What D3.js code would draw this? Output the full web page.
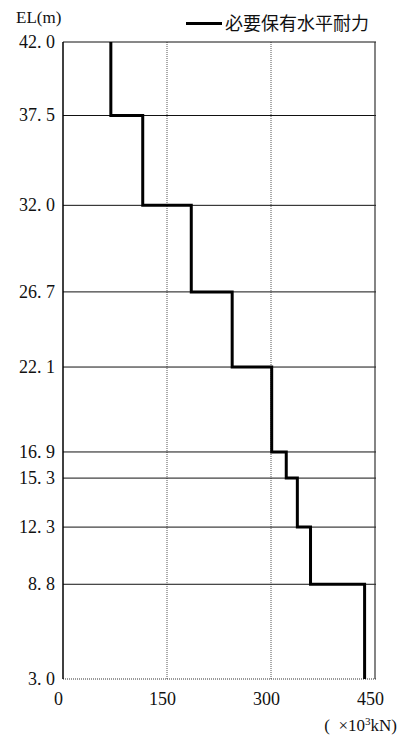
<!DOCTYPE html>
<html><head><meta charset="utf-8">
<script src="https://cdn.jsdelivr.net/npm/d3@7"></script>
<style>body{margin:0;background:#fff}svg{display:block}
.serif{font-family:"Liberation Serif","Times New Roman","DejaVu Serif",serif}
.cjk{font-family:"Noto Sans CJK JP",sans-serif}
</style>
</head><body>
<script>
// Data
const elevations = [42.0, 37.5, 32.0, 26.7, 22.1, 16.9, 15.3, 12.3, 8.8, 3.0];
const requiredStrength = [69, 115, 185, 244, 301, 322, 338, 357, 435]; // per segment, top to bottom (×10^3 kN)
const xTicks = [0, 150, 300, 450];
const legendLabel = "必要保有水平耐力";
const yAxisTitle = "EL(m)";

const W = 398, H = 738;
const mLeft = 63, mRight = 375, mTop = 42, mBottom = 679;
const svg = d3.select("body").append("svg").attr("width", W).attr("height", H);
const x = d3.scaleLinear().domain([0, 450]).range([mLeft, mRight]);
const y = d3.scaleLinear().domain([3.0, 42.0]).range([mBottom, mTop]);

// vertical grid lines (dotted gray)
svg.append("g").selectAll("line").data(xTicks.filter(d => d > 0 && d < 450)).join("line")
  .attr("x1", d => x(d)).attr("x2", d => x(d)).attr("y1", mTop).attr("y2", mBottom)
  .attr("stroke", "#555").attr("stroke-width", 1).attr("stroke-dasharray", "1,1");

// horizontal grid lines at elevation ticks
svg.append("g").selectAll("line").data(elevations.filter(d => d !== 3.0)).join("line")
  .attr("x1", mLeft).attr("x2", mRight + 1).attr("y1", d => y(d)).attr("y2", d => y(d))
  .attr("stroke", "#111").attr("stroke-width", 1);

// frame
svg.append("line").attr("x1", mLeft).attr("x2", mRight + 1).attr("y1", mBottom).attr("y2", mBottom)
  .attr("stroke", "#333").attr("stroke-width", 1.2).attr("stroke-dasharray", "1,1");
svg.append("line").attr("x1", x(450)).attr("x2", x(450)).attr("y1", mTop).attr("y2", mBottom)
  .attr("stroke", "#333").attr("stroke-width", 1.2);
svg.append("line").attr("x1", mLeft).attr("x2", mLeft).attr("y1", mTop).attr("y2", mBottom)
  .attr("stroke", "#000").attr("stroke-width", 1.5);

// Y axis labels
const yAxis = d3.axisLeft(y).tickValues(elevations).tickSize(0).tickPadding(8)
  .tickFormat(d => d.toFixed(1).replace(".", ". "));
const gy = svg.append("g").attr("transform", `translate(${mLeft},0)`).call(yAxis);
gy.select(".domain").remove();
gy.attr("font-family", null).attr("font-size", null);
gy.selectAll("text").attr("class", "serif").attr("font-size", 18).attr("fill", "#111").attr("dy", "0.3em")
  .style("white-space", "pre");

// X axis labels
const xAxis = d3.axisBottom(x).tickValues(xTicks).tickSize(0).tickPadding(13).tickFormat(d3.format("d"));
const gx = svg.append("g").attr("transform", `translate(0,${mBottom})`).call(xAxis);
gx.select(".domain").remove();
gx.attr("font-family", null).attr("font-size", null);
gx.selectAll("text").attr("class", "serif").attr("font-size", 18).attr("fill", "#111").attr("dx", -5);

// step line
const pts = [];
requiredStrength.forEach((v, i) => {
  pts.push([x(v), y(elevations[i])]);
  pts.push([x(v), y(elevations[i + 1])]);
});
svg.append("path").attr("d", d3.line()(pts)).attr("fill", "none")
  .attr("stroke", "#000").attr("stroke-width", 3).attr("stroke-linejoin", "miter");

// axis title
svg.append("text").attr("class", "serif").attr("x", 16).attr("y", 23).text(yAxisTitle)
  .attr("font-size", 17).attr("fill", "#111");
const unit = svg.append("text").attr("class", "serif").attr("x", 397).attr("y", 731)
  .attr("text-anchor", "end").attr("font-size", 17).attr("fill", "#111").style("white-space", "pre");
unit.append("tspan").text("(  ×10");
unit.append("tspan").text("3").attr("font-size", 11).attr("dy", -6);
unit.append("tspan").text("kN)").attr("dy", 6);

// legend
svg.append("line").attr("x1", 186).attr("x2", 222).attr("y1", 23.5).attr("y2", 23.5)
  .attr("stroke", "#000").attr("stroke-width", 3);
svg.append("text").attr("class", "cjk").attr("x", 225).attr("y", 30).text(legendLabel)
  .attr("font-size", 18).attr("fill", "#111");
</script>
</body></html>
